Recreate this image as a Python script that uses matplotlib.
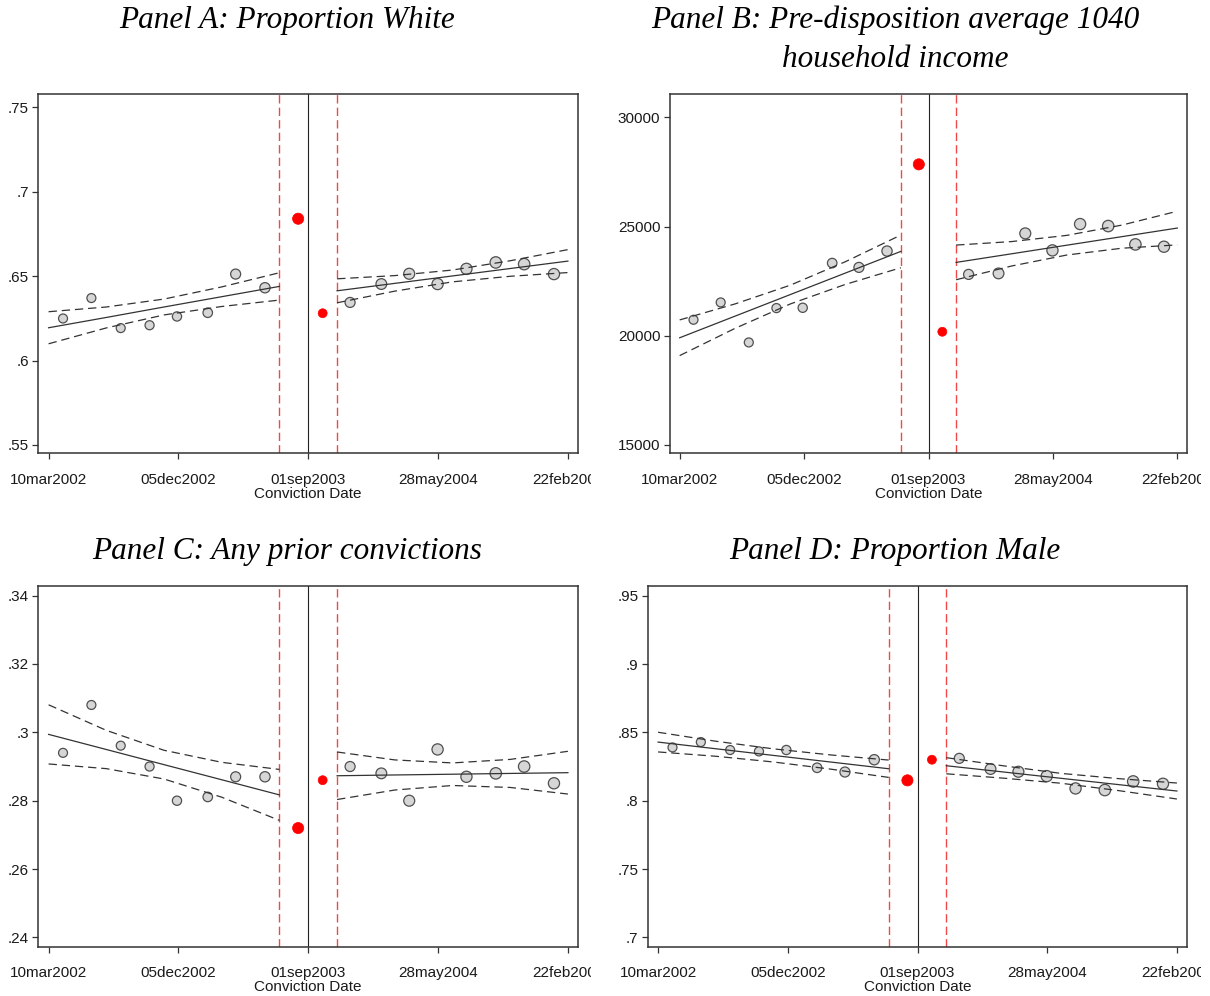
import numpy as np
import matplotlib
matplotlib.use("Agg")
import matplotlib.pyplot as plt
from matplotlib.transforms import Bbox, TransformedBbox

# ---------------- data ----------------
# x positions: days relative to the 01sep2003 cutoff
bin_days_left = [-510, -451, -390, -330, -273, -209, -151, -90]
bin_days_right = [87, 152, 210, 269, 329, 390, 449, 511]
red_days = [-21, 30]
# relative bin frequencies (marker area)
bin_weight_left = [0.80, 0.80, 0.80, 0.82, 0.85, 0.90, 1.00, 1.05]
bin_weight_right = [1.00, 1.15, 1.20, 1.25, 1.25, 1.30, 1.30, 1.25]
red_weight = [1.25, 0.80]
bandwidth_days = 60

fit_days_left = [-540, -420, -300, -180, -60]
fit_days_right = [60, 180, 300, 420, 540]

tick_days = [-540, -270, 0, 270, 540]
tick_labels = ["10mar2002", "05dec2002", "01sep2003", "28may2004", "22feb2005"]

# Panel A: Proportion White
a_left = [.6249, .6370, .6192, .6209, .6261, .6283, .6512, .6431]
a_red = [.684, .628]
a_right = [.6344, .6453, .6514, .6453, .6543, .6581, .6571, .6512]
a_fit_left = [.6194, .6255, .6317, .6378, .6439]
a_up_left = [.6289, .6317, .6364, .6436, .6520]
a_lo_left = [.6099, .6193, .6270, .6320, .6358]
a_fit_right = [.6413, .6457, .6501, .6545, .6589]
a_up_right = [.6484, .6503, .6536, .6591, .6657]
a_lo_right = [.6342, .6411, .6466, .6499, .6521]
a_yticks = [.55, .6, .65, .7, .75]
a_yticklabels = [".55", ".6", ".65", ".7", ".75"]

# Panel B: household income
b_left = [20728, 21523, 19690, 21263, 21278, 23325, 23127, 23875]
b_red = [27846, 20179]
b_right = [22806, 22852, 24685, 23906, 25112, 25021, 24180, 24074]
b_fit_left = [19904, 20893, 21882, 22871, 23860]
b_up_left = [20721, 21453, 22312, 23391, 24609]
b_lo_left = [19087, 20333, 21452, 22351, 23111]
b_fit_right = [23356, 23749, 24143, 24536, 24929]
b_up_right = [24150, 24309, 24593, 25066, 25700]
b_lo_right = [22562, 23189, 23693, 24006, 24158]
b_yticks = [15000, 20000, 25000, 30000]
b_yticklabels = ["15000", "20000", "25000", "30000"]

# Panel C: Any prior convictions
c_left = [.2940, .3080, .2961, .2900, .2800, .2811, .2870, .2870]
c_red = [.2720, .2860]
c_right = [.2900, .2880, .2800, .2950, .2870, .2880, .2900, .2851]
c_fit_left = [.2994, .29498, .29055, .28613, .2817]
c_up_left = [.30805, .30058, .29475, .29123, .28915]
c_lo_left = [.29075, .28938, .28635, .28103, .27425]
c_fit_right = [.2873, .28753, .28775, .28798, .2882]
c_up_right = [.29425, .29193, .29105, .29208, .29445]
c_lo_right = [.28035, .28313, .28445, .28388, .28195]
c_yticks = [.24, .26, .28, .30, .32, .34]
c_yticklabels = [".24", ".26", ".28", ".3", ".32", ".34"]

# Panel D: Proportion Male
d_left = [.8390, .8429, .8371, .8361, .8371, .8241, .8210, .8300]
d_red = [.8149, .8300]
d_right = [.8310, .8232, .8212, .8180, .8090, .8078, .8141, .8124]
d_fit_left = [.8429, .83803, .83315, .82828, .8234]
d_up_left = [.8501, .84353, .83795, .83348, .82975]
d_lo_left = [.8357, .83253, .82835, .82308, .81705]
d_fit_right = [.8256, .82098, .81635, .81173, .8071]
d_up_right = [.8315, .82548, .81995, .81613, .81295]
d_lo_right = [.8197, .81648, .81275, .80733, .80125]
d_yticks = [.7, .75, .8, .85, .9, .95]
d_yticklabels = [".7", ".75", ".8", ".85", ".9", ".95"]

# ---------------- figure ----------------
W, H = 1210, 996
plt.rcParams["lines.scale_dashes"] = False
fig = plt.figure(figsize=(W / 100, H / 100), dpi=100)
fig.patch.set_facecolor("white")

TICK_FONT = dict(family=["Liberation Sans", "DejaVu Sans"], size=11)
TITLE_FONT = dict(family=["Liberation Serif", "DejaVu Serif"], style="italic", size=22.5)
FRAME = "#333333"


def px_axes(l, t, r, b):
    return fig.add_axes([l / W, 1 - b / H, (r - l) / W, (b - t) / H])


def panel(ax, left, red, right, fl, ul, ll, fr, ur, lr, ylim, yticks, yticklabels, clip_right):
    ax.set_xlim(-561, 561)
    ax.set_ylim(*ylim)
    # vertical reference lines
    ax.axvline(0, color="#222222", lw=0.8, zorder=1)
    for d in (-bandwidth_days, bandwidth_days):
        ax.axvline(d, color="#f04848", lw=1.0, dashes=(6, 3), zorder=1)
    # binned means
    base = 52
    ax.scatter(bin_days_left, left, s=[base * w for w in bin_weight_left],
               facecolor="#d6d6d6", edgecolor="#505050", linewidths=0.9, zorder=2)
    ax.scatter(bin_days_right, right, s=[base * w for w in bin_weight_right],
               facecolor="#d6d6d6", edgecolor="#505050", linewidths=0.9, zorder=2)
    ax.scatter(red_days, red, s=[base * w for w in red_weight],
               facecolor="#ff0000", edgecolor="#ff0000", linewidths=0.5, zorder=2)
    # linear fits with confidence bands
    for xs, f, u, l_ in ((fit_days_left, fl, ul, ll), (fit_days_right, fr, ur, lr)):
        ax.plot(xs, f, color="#333333", lw=0.9, zorder=3)
        ax.plot(xs, u, color="#333333", lw=0.9, dashes=(6, 3.5), zorder=3)
        ax.plot(xs, l_, color="#333333", lw=0.9, dashes=(6, 3.5), zorder=3)
    # axes styling
    for sp in ax.spines.values():
        sp.set_color(FRAME)
        sp.set_linewidth(1.1)
    ax.set_xticks(tick_days)
    ax.set_xticklabels(tick_labels, **TICK_FONT, color="#1a1a1a")
    ax.set_yticks(yticks)
    ax.set_yticklabels(yticklabels, **TICK_FONT, color="#1a1a1a")
    ax.tick_params(axis="x", direction="out", length=4, width=0.9, color=FRAME, pad=10)
    ax.tick_params(axis="y", direction="out", length=4, width=0.9, color=FRAME, pad=3)
    ax.set_xlabel("Conviction Date", **TICK_FONT, color="#1a1a1a", labelpad=0)
    # the combined graph crops each panel at its own edge, as in the original
    clip = TransformedBbox(Bbox.from_extents(0, 0, clip_right / W, 1), fig.transFigure)
    for lab in ax.get_xticklabels():
        lab.set_clip_box(clip)
        lab.set_clip_on(True)


axA = px_axes(38.5, 94, 578, 453.5)
panel(axA, a_left, a_red, a_right, a_fit_left, a_up_left, a_lo_left,
      a_fit_right, a_up_right, a_lo_right, (.5449, .7579), a_yticks, a_yticklabels, 591)

axB = px_axes(670, 94, 1187, 453.5)
panel(axB, b_left, b_red, b_right, b_fit_left, b_up_left, b_lo_left,
      b_fit_right, b_up_right, b_lo_right, (14603, 31069), b_yticks, b_yticklabels, 1201)

axC = px_axes(38.5, 586, 578, 946.7)
panel(axC, c_left, c_red, c_right, c_fit_left, c_up_left, c_lo_left,
      c_fit_right, c_up_right, c_lo_right, (.2373, .3428), c_yticks, c_yticklabels, 591)

axD = px_axes(648, 586, 1187, 946.7)
panel(axD, d_left, d_red, d_right, d_fit_left, d_up_left, d_lo_left,
      d_fit_right, d_up_right, d_lo_right, (.6932, .9571), d_yticks, d_yticklabels, 1201)

# titles
def title(x, y, s):
    fig.text(x / W, 1 - y / H, s, ha="center", va="baseline", color="black", **TITLE_FONT)

title(287, 28, "Panel A: Proportion White")
title(895, 28, "Panel B: Pre-disposition average 1040")
title(895, 67, "household income")
title(287, 559, "Panel C: Any prior convictions")
title(895, 559, "Panel D: Proportion Male")

fig.savefig("out.png", dpi=100, facecolor="white")
